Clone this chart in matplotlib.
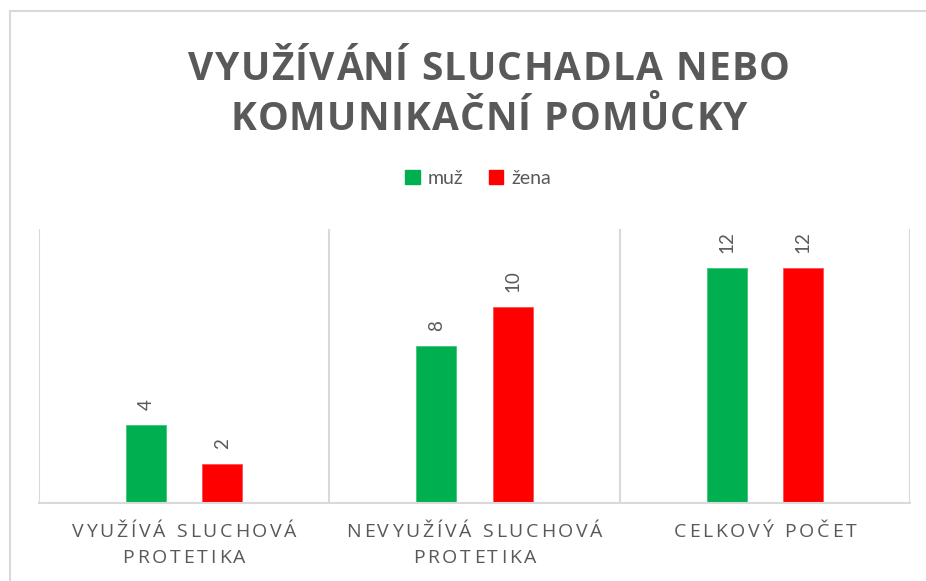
import numpy as np
import matplotlib.pyplot as plt
from matplotlib.patches import Patch, Rectangle

categories = [["VYUŽÍVÁ SLUCHOVÁ", "PROTETIKA"],
              ["NEVYUŽÍVÁ SLUCHOVÁ", "PROTETIKA"],
              ["CELKOVÝ POČET"]]
muz = [4, 8, 12]
zena = [2, 10, 12]
series_names = ["muž", "žena"]
title_lines = ["VYUŽÍVÁNÍ SLUCHADLA NEBO", "KOMUNIKAČNÍ POMŮCKY"]

W, H = 926, 581
GRAY = '#595959'
LINE = '#d9d9d9'
GREEN = '#00b050'
RED = '#ff0000'

fig = plt.figure(figsize=(W / 100, H / 100), dpi=100)
ax = fig.add_axes([39 / W, 1 - 503 / H, (910 - 39) / W, (503 - 229) / H])

# chart border (runs off right/bottom of the image)
fig.add_artist(Rectangle((9.5 / W, -0.2), 1.2, 1.2 - 11 / H, transform=fig.transFigure,
                         fill=False, edgecolor=LINE, linewidth=1.5, clip_on=False))

x = np.arange(len(muz))
off, bw = 0.131, 0.138
b1 = ax.bar(x - off, muz, width=bw, color=GREEN, edgecolor='#40c47a', linewidth=0.6)
b2 = ax.bar(x + off, zena, width=bw, color=RED, edgecolor='#ff5050', linewidth=0.6)

for bars, vals in ((b1, muz), (b2, zena)):
    for b, v in zip(bars, vals):
        ax.annotate(str(v), (b.get_x() + b.get_width() / 2, v), xytext=(0, 15),
                    textcoords='offset pixels', rotation=90, ha='center', va='bottom',
                    fontsize=13.5, color=GRAY, family='Lato')

ax.set_xlim(-0.5, len(muz) - 0.5)
ax.set_ylim(0, 14)
for b in np.arange(len(muz) + 1) - 0.5:
    ax.axvline(b, color=LINE, linewidth=1.5, zorder=0)
for s in ['left', 'right', 'top']:
    ax.spines[s].set_visible(False)
ax.spines['bottom'].set_color(LINE)
ax.spines['bottom'].set_linewidth(1.5)
ax.set_xticks([])
ax.set_yticks([])

renderer = fig.canvas.get_renderer()


def text_w(t, **kw):
    tt = fig.text(0, 0, t, **kw)
    w = tt.get_window_extent(renderer).width
    tt.remove()
    return w


def spaced_text(cx, base_y, s, spacing, **kw):
    # draw letter-spaced text centred at cx (pixels), baseline at base_y (pixels from top)
    ref = text_w('I', **kw)
    offs = [text_w(s[:i] + 'I', **kw) - ref for i in range(len(s))]
    total = text_w(s, **kw) + spacing * (len(s) - 1)
    left = cx - total / 2
    for i, ch in enumerate(s):
        if ch == ' ':
            continue
        fig.text((left + offs[i] + i * spacing) / W, 1 - base_y / H, ch,
                 ha='left', va='baseline', **kw)


title_kw = dict(fontsize=28, fontweight='bold', color=GRAY, family='Open Sans')
spaced_text(489, 80, title_lines[0], 1.3, **title_kw)
spaced_text(489, 130, title_lines[1], 1.3, **title_kw)

lab_kw = dict(fontsize=14, color=GRAY, family='Open Sans')
for i, lines in enumerate(categories):
    cx = ax.transData.transform((i, 0))[0]
    for j, line in enumerate(lines):
        spaced_text(cx, 537 + 26 * j, line, 2.8, **lab_kw)

handles = [Patch(color=GREEN), Patch(color=RED)]
fig.legend(handles, series_names, loc='center', bbox_to_anchor=(478 / W, 1 - 178 / H),
           ncol=2, frameon=False, handlelength=0.75, handleheight=0.75,
           handletextpad=0.4, columnspacing=1.3,
           prop={'family': 'Lato', 'size': 14}, labelcolor=GRAY)

fig.savefig('out.png', dpi=100)
